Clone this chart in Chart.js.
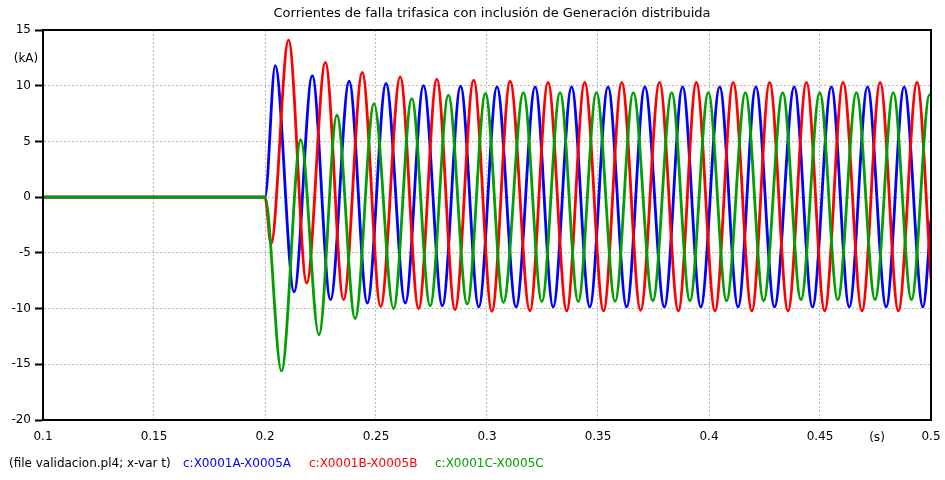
<!DOCTYPE html>
<html>
<head>
<meta charset="utf-8">
<title>Corrientes de falla trifasica</title>
<script src="https://cdn.jsdelivr.net/npm/chart.js@4.4.1/dist/chart.umd.min.js"></script>
<style>
    body { margin: 0; background: #fff; }
    #wrap { position: relative; width: 945px; height: 480px; }
    #legend span {
        position: absolute;
        top: 456px;
        font: 12px "DejaVu Sans", sans-serif;
        white-space: nowrap;
    }
</style>
</head>
<body>
<div id="wrap">
    <canvas id="faultChart" width="945" height="480"></canvas>
    <div id="legend">
        <span style="left:9px;color:#000">(file validacion.pl4; x-var t)</span>
        <span style="left:183px;color:#0000ff">c:X0001A-X0005A</span>
        <span style="left:309px;color:#ff0000">c:X0001B-X0005B</span>
        <span style="left:435px;color:#00a000">c:X0001C-X0005C</span>
    </div>
</div>
<script>
// Chart data: peaks/valleys (time in s, current in kA)
const chartTitle = 'Corrientes de falla trifasica con inclusión de Generación distribuida';

const tA = [0.1, 0.2, 0.2046, 0.2131, 0.2213, 0.2295, 0.2379, 0.2461, 0.2545, 0.2632, 0.2714, 0.2799,
    0.2881, 0.2963, 0.3045, 0.3131, 0.3217, 0.3298, 0.3381, 0.3463, 0.3545, 0.3629, 0.3711, 0.3799,
    0.3881, 0.3963, 0.4048, 0.4131, 0.4211, 0.4295, 0.4384, 0.4466, 0.4551, 0.4632, 0.4714, 0.4798,
    0.4879, 0.4964, 0.5];
const iA = [0, 0, 11.8, -8.5, 10.9, -9.2, 10.4, -9.5, 10.2, -9.5, 10.0, -9.75,
    9.95, -9.85, 9.9, -9.85, 9.9, -9.85, 9.9, -9.85, 9.9, -9.85, 9.9, -9.85,
    9.9, -9.85, 9.9, -9.85, 9.9, -9.85, 9.9, -9.85, 9.9, -9.85, 9.9, -9.85,
    9.9, -9.85, -2.0];

const tB = [0.1, 0.2, 0.2027, 0.2106, 0.2188, 0.2272, 0.2354, 0.2438, 0.2521, 0.2609, 0.2692, 0.2774,
    0.2856, 0.2940, 0.3022, 0.3104, 0.3193, 0.3275, 0.3359, 0.3440, 0.3525, 0.3607, 0.3692, 0.3777,
    0.3862, 0.3943, 0.4027, 0.4109, 0.4193, 0.4273, 0.4356, 0.4439, 0.4521, 0.4604, 0.4689, 0.4771,
    0.4853, 0.4937, 0.5];
const iB = [0, 0, -4.2, 14.1, -7.7, 12.1, -9.2, 11.2, -9.8, 10.8, -10.0, 10.6,
    -10.1, 10.5, -10.25, 10.4, -10.2, 10.3, -10.2, 10.3, -10.2, 10.3, -10.15, 10.3,
    -10.2, 10.3, -10.2, 10.3, -10.2, 10.3, -10.2, 10.3, -10.2, 10.3, -10.2, 10.3,
    -10.2, 10.3, -7.3];

const tC = [0.1, 0.2, 0.2074, 0.2161, 0.2243, 0.2324, 0.2406, 0.2491, 0.2579, 0.2661, 0.2744, 0.2826,
    0.2911, 0.2993, 0.3074, 0.3164, 0.3247, 0.3329, 0.3411, 0.3493, 0.3577, 0.3659, 0.3747, 0.3832,
    0.3914, 0.3997, 0.4079, 0.4164, 0.4246, 0.4332, 0.4414, 0.4499, 0.4580, 0.4664, 0.4748, 0.4830,
    0.4912, 0.4994, 0.5];
const iC = [0, 0, -15.6, 5.15, -12.35, 7.35, -10.9, 8.4, -10.0, 8.85, -9.75, 9.15,
    -9.6, 9.3, -9.45, 9.38, -9.38, 9.38, -9.38, 9.38, -9.35, 9.38, -9.3, 9.38,
    -9.3, 9.38, -9.3, 9.38, -9.3, 9.38, -9.2, 9.38, -9.2, 9.38, -9.2, 9.38,
    -9.2, 9.2, 9.1];

const xTicks = [0.1, 0.15, 0.2, 0.25, 0.3, 0.35, 0.4, 0.45, 0.5];
const yTicks = [15, 10, 5, 0, -5, -10, -15, -20];

const FONT = '"DejaVu Sans", sans-serif';

// Build {x, y} points
function toPoints(t, v) {
    return t.map((x, i) => ({ x: x, y: v[i] }));
}

function makeSeries(t, v, color, order) {
    return {
        data: toPoints(t, v),
        borderColor: color,
        backgroundColor: color,
        borderWidth: 2.8,
        pointRadius: 0,
        cubicInterpolationMode: 'monotone',
        fill: false,
        order: order
    };
}

// Frame, title and unit labels
const decorPlugin = {
    id: 'decor',
    afterDraw(chart) {
        const ctx = chart.ctx;
        const a = chart.chartArea;
        ctx.save();
        ctx.strokeStyle = '#000';
        ctx.lineWidth = 2;
        ctx.strokeRect(a.left, a.top, a.right - a.left, a.bottom - a.top);

        ctx.fillStyle = '#000';
        ctx.textAlign = 'center';
        ctx.textBaseline = 'middle';
        ctx.font = '13px ' + FONT;
        ctx.fillText(chartTitle, 492, 14);
        ctx.font = '12px ' + FONT;
        ctx.fillText('(kA)', 26, 59);
        ctx.fillText('(s)', 877, 438);
        ctx.restore();
    }
};

function initFaultChart() {
    const ctx = document.getElementById('faultChart');
    if (!ctx) return;

    new Chart(ctx, {
        type: 'line',
        data: {
            datasets: [
                makeSeries(tA, iA, '#0000ff', 3),
                makeSeries(tB, iB, '#ff0000', 2),
                makeSeries(tC, iC, '#00a000', 1)
            ]
        },
        options: {
            responsive: false,
            animation: false,
            layout: { padding: { top: 30, right: 14, bottom: 30, left: 0 } },
            plugins: {
                legend: { display: false },
                title: { display: false },
                tooltip: { enabled: false }
            },
            scales: {
                x: {
                    type: 'linear',
                    min: 0.1,
                    max: 0.5,
                    afterFit: scale => { scale.height = 30; },
                    afterBuildTicks: scale => { scale.ticks = xTicks.map(v => ({ value: v })); },
                    ticks: {
                        color: '#000',
                        font: { family: FONT, size: 12 },
                        padding: 4,
                        maxRotation: 0,
                        autoSkip: false,
                        callback: v => String(Number(v.toFixed(2)))
                    },
                    grid: {
                        color: '#b8b8b8',
                        lineWidth: 1,
                        tickLength: 6,
                        tickColor: 'rgba(0,0,0,0)'
                    },
                    border: { display: true, color: '#000', width: 2, dash: [2, 2] }
                },
                y: {
                    min: -20,
                    max: 15,
                    afterFit: scale => { scale.width = 43; },
                    afterBuildTicks: scale => { scale.ticks = yTicks.map(v => ({ value: v })); },
                    ticks: {
                        color: '#000',
                        font: { family: FONT, size: 12 },
                        padding: 4,
                        autoSkip: false
                    },
                    grid: {
                        color: '#b8b8b8',
                        lineWidth: 1,
                        tickLength: 8,
                        tickColor: '#000',
                        tickWidth: 2,
                        tickBorderDash: []
                    },
                    border: { display: true, color: '#000', width: 2, dash: [2, 2] }
                }
            }
        },
        plugins: [decorPlugin]
    });
}

document.addEventListener('DOMContentLoaded', initFaultChart);
</script>
</body>
</html>
